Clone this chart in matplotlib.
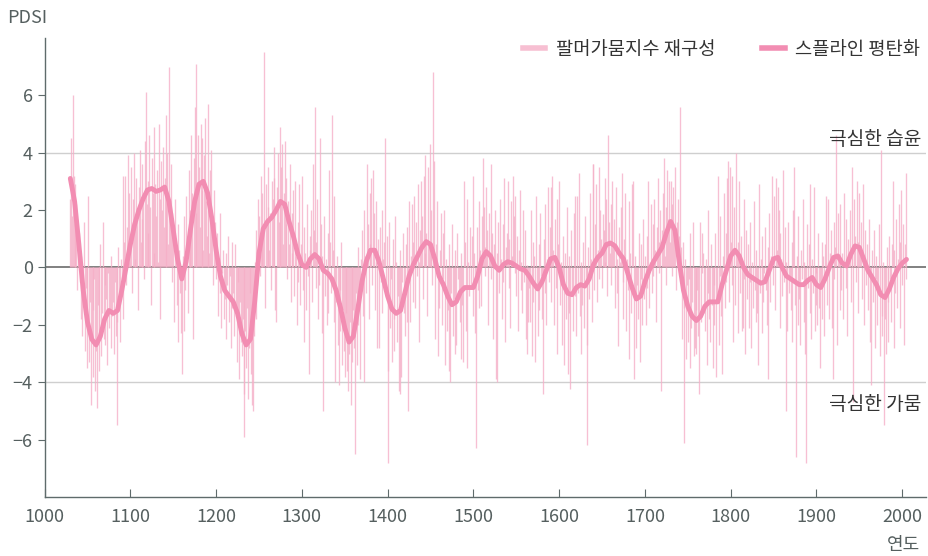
import matplotlib.pyplot as plt
import numpy as np
from matplotlib.lines import Line2D

plt.rcParams['font.family'] = ['Noto Sans CJK KR', 'DejaVu Sans']

# annual reconstructed PDSI, one row per decade, starting 1030
pdsi = [
    2.4, 4.5, 1.8, 6.0, 3.2, 2.9, 1.5, 2.2, -0.8, 0.6,
    1.2, -0.5, -1.8, 0.4, -2.4, -1.1, 1.6, -2.9, -0.7, -3.5,
    -2.0, 2.5, -3.3, -1.2, -4.8, -2.6, -1.5, -3.8, -0.4, -4.3,
    -2.9, -4.9, -1.3, -3.6, -2.2, 0.8, -3.1, -1.6, 1.6, -2.5,
    -0.6, -2.7, -1.1, -3.4, -0.2, -2.1, -1.5, 0.4, -2.8, -1.7,
    -1.2, -3.0, -0.5, -2.4, -1.9, -5.5, 0.7, -1.4, -2.6, 0.3,
    -0.4, 3.2, -1.8, 0.9, 3.2, -0.6, 1.4, 3.9, 0.2, 2.6,
    1.1, 3.5, -0.9, 2.4, 4.0, 1.6, 0.3, 3.1, 2.0, -1.5,
    2.8, 4.1, 0.9, 3.6, 1.7, 2.5, -0.4, 4.4, 6.1, 2.2,
    3.0, 1.2, 4.6, 2.1, -1.3, 3.8, 2.6, 0.5, 4.9, 2.9,
    1.8, 3.4, 0.2, 5.0, 2.4, -1.8, 3.7, 2.0, 4.2, 1.4,
    3.1, 5.3, 2.6, 4.0, 0.8, 7.0, 2.2, 3.6, -0.5, 1.9,
    1.0, -1.9, 2.4, 0.3, -1.3, 1.5, -2.6, 0.6, -0.9, -2.3,
    -3.7, 0.4, -2.2, 1.8, -0.8, 2.5, 0.9, -1.6, 3.4, 2.0,
    1.2, 4.6, 2.6, -2.5, 3.8, 5.6, 1.9, 7.1, 2.8, 4.6,
    3.5, 1.4, 5.0, 2.7, 4.5, 0.6, 3.9, 5.2, 2.3, 1.1,
    5.7, 2.0, 0.5, 3.4, 4.1, 1.3, -0.6, 2.7, 0.1, 1.6,
    -0.4, 1.2, -1.7, 0.3, -0.9, 1.9, -2.1, -0.2, 0.6, -1.8,
    -1.1, 0.5, -2.5, -0.6, 1.1, -1.9, -0.3, -2.8, 0.9, -1.4,
    -0.9, -2.4, 0.8, -1.7, -3.3, -0.5, -2.0, -3.9, -1.2, -2.6,
    -3.1, -1.8, -4.4, -5.9, -2.2, -3.5, -1.4, -4.6, -2.8, -0.9,
    -2.0, -3.7, -4.8, -5.0, -2.4, 0.2, -1.8, 1.3, -0.6, 2.4,
    1.8, -0.3, 3.2, 0.9, 2.6, 1.5, 7.5, -1.4, 2.9, 1.5,
    2.1, 3.5, 0.6, 1.9, -0.8, 3.0, 2.4, 4.2, 3.1, -1.5,
    -1.9, 2.8, 4.0, 1.6, 4.9, 2.2, 3.5, 4.3, 0.8, 2.6,
    4.4, 1.5, 3.1, -0.4, 2.3, 0.8, 3.6, -1.2, 1.9, 0.5,
    2.7, -1.0, 3.0, 0.4, -2.0, 1.6, -0.5, 2.9, -1.3, 0.8,
    3.2, -0.8, 1.4, -2.6, 0.5, -1.5, 2.2, -0.3, -3.7, 1.1,
    0.6, 2.0, -1.2, 3.6, 1.3, 5.6, -0.7, 0.9, 2.4, -1.8,
    -0.6, 4.5, 1.5, -2.3, 0.4, -5.0, 1.8, -1.0, 0.3, -2.0,
    1.2, -1.6, 3.4, 0.9, -0.9, 5.3, 0.6, -1.9, 2.5, -4.0,
    -1.2, 0.4, -2.7, -4.1, -0.8, -2.2, 0.9, -3.4, -1.5, -2.9,
    -3.8, -1.6, -2.5, -3.6, -4.3, -3.0, -1.9, -4.8, -2.1, -3.3,
    -1.5, -2.8, -6.5, -0.9, -3.4, 0.7, -2.0, -1.1, -3.9, 0.3,
    1.3, -1.7, -4.0, 2.0, 0.4, -0.9, 3.6, 1.5, -1.8, 2.6,
    0.8, 3.1, -0.6, 3.4, 1.9, -1.5, 0.2, 2.3, -2.8, 1.0,
    -2.8, 1.4, -0.5, 2.0, -1.6, 0.3, 0.9, 4.5, -0.9, 1.1,
    -3.6, -6.8, 1.6, -2.1, -0.4, -3.3, 1.0, -1.8, -2.9, 1.8,
    0.2, -2.6, -1.0, -4.3, 0.6, -4.4, -3.8, -0.5, 1.2, -1.6,
    -2.4, 0.8, -1.9, 1.4, -5.0, 2.3, -1.9, 0.4, 2.2, -1.2,
    0.9, 2.5, -1.4, 1.6, -0.3, 2.9, 0.2, -2.6, 1.3, 3.0,
    1.8, -1.1, 3.2, 0.5, 3.9, 1.2, -1.7, 3.5, 0.7, 4.3,
    2.0, 0.5, -0.6, 6.8, 3.7, -2.5, 0.8, -0.2, 2.3, -3.1,
    -1.4, 0.6, 1.9, -2.0, -0.4, 1.2, 2.0, -3.4, 0.3, -2.2,
    -1.5, 0.8, -3.6, -4.0, -0.9, 1.5, -2.4, -1.1, 0.6, -3.0,
    -2.7, 1.2, -0.4, -1.0, -1.9, -3.2, 0.5, -1.3, -3.3, 3.0,
    0.9, -2.2, 2.4, -3.5, 0.2, -1.0, 1.4, -0.6, 1.1, 3.2,
    -1.7, 0.5, -2.3, -6.3, 1.4, -0.8, 2.3, -1.4, 0.6, -1.35,
    1.8, 3.8, 2.1, 0.7, -0.3, 2.8, 1.3, -2.0, 1.9, 0.4,
    3.6, -0.4, 1.2, -2.5, 0.8, 2.0, -3.9, -4.0, 0.5, 1.6,
    -0.9, 2.4, 0.3, -1.8, 1.5, -0.5, 3.1, -2.6, 0.7, 1.2,
    3.0, -0.7, 1.0, -2.1, 2.3, 0.4, 3.2, 1.8, -0.2, 2.5,
    -1.0, 1.1, -2.2, 0.6, 2.7, -0.8, 0.2, -1.6, 2.0, -0.5,
    1.3, -2.5, 0.1, -3.0, -1.9, -0.7, -1.9, 2.0, -3.1, 0.9,
    -1.2, 0.4, -3.3, 2.5, -0.6, -2.4, 0.8, -1.5, 1.9, -0.3,
    -1.8, -4.4, 1.0, -0.9, 2.2, -2.0, 0.3, 2.8, -0.5, 1.4,
    2.8, -1.2, 3.2, 0.6, -2.0, 1.7, -0.7, 2.4, -3.0, 0.8,
    3.0, -1.3, 0.2, -2.7, 1.1, -0.6, -3.4, 0.5, -1.8, 2.1,
    -3.7, 0.4, -1.6, -4.25, 1.3, -0.8, -2.2, 1.9, -1.0, 2.5,
    -2.4, 2.5, -0.9, 3.3, -1.7, -3.0, 0.2, -1.3, 0.9, -2.1,
    1.8, -0.6, -2.7, -6.2, 0.7, -1.1, 2.6, 0.3, -1.9, 3.6,
    3.6, -0.8, 1.5, 2.9, -1.2, 0.6, 3.5, -0.4, 2.0, 1.0,
    -0.7, 1.85, 1.3, 3.1, 0.2, 2.4, -1.0, 4.6, 1.6, 0.5,
    2.2, -0.6, 3.0, 0.9, 1.7, -1.4, 2.8, 0.3, -0.9, -2.75,
    1.4, 0.2, 2.1, 3.3, -0.5, -1.8, 1.0, 2.6, -2.2, 0.3,
    -0.8, 2.3, -3.2, 0.5, -1.6, 2.9, 3.0, -3.9, 0.4, -1.1,
    -2.8, -0.6, -1.8, 1.2, -3.3, -0.4, 0.8, -2.0, 1.7, -1.1,
    0.4, -2.0, 1.1, -0.7, 3.0, -1.4, 0.2, 2.2, -0.9, 1.5,
    -0.3, 2.4, 0.6, -1.9, 1.4, 3.1, -0.2, 0.9, 2.0, -4.3,
    1.3, 2.6, 3.8, 0.4, 2.1, -0.6, 3.4, 1.7, 3.0, 0.9,
    3.0, 2.2, -0.3, 2.8, 1.0, 3.5, -0.8, 1.6, 0.2, 2.4,
    1.1, 5.6, 0.7, -2.5, 0.9, -1.4, -6.1, 0.3, -3.2, -0.6,
    -2.6, -0.4, -3.5, 1.2, -2.1, -1.2, 1.6, -3.1, -2.8, -1.5,
    -3.0, -0.8, -2.4, -4.4, 1.6, -1.9, -0.2, 1.2, 0.5, -1.6,
    -2.2, 0.3, -3.4, -0.9, 2.0, -1.8, -2.6, 0.8, -1.3, -3.5,
    -0.6, -2.0, 1.2, -3.8, -1.0, 3.2, -2.7, -0.3, 1.8, -1.7,
    -3.7, 0.4, 2.6, -1.4, 1.2, -0.5, 3.1, 3.7, -1.2, 3.5,
    0.9, 3.2, -0.6, -2.6, 2.1, -1.3, 4.0, 0.5, -2.3, 0.9,
    3.0, -0.9, 1.1, -2.2, -2.1, 2.4, -0.4, -3.0, 1.3, -1.1,
    0.8, -2.1, -0.5, 1.6, -2.8, 0.2, -1.4, 2.3, -0.8, -1.9,
    0.6, -1.6, -3.4, 2.9, -0.9, 0.3, -2.3, 1.1, -1.2, -0.2,
    1.4, -0.8, -2.0, -3.9, 0.7, 1.9, -1.2, 0.4, 3.2, -0.6,
    2.5, 0.1, -1.5, 3.1, 0.6, 2.8, 2.0, -2.1, 1.2, 0.3,
    -1.0, 3.4, -0.5, 1.4, -5.0, 0.2, -2.2, 1.6, -0.9, -0.3,
    -1.5, 0.9, -2.6, 2.0, 3.5, -1.3, -6.6, 0.4, -2.0, 1.8,
    -1.1, -2.7, 0.6, -0.4, 2.4, -1.9, 0.2, -3.0, -6.8, 1.5,
    -0.7, 0.8, 2.9, -1.6, -2.5, 0.3, -0.9, 2.8, -2.2, -1.3,
    -0.2, -2.0, 1.2, -1.4, -3.5, -0.6, 0.9, -1.8, 0.4, -2.4,
    0.8, 2.5, -1.3, 0.2, 2.4, -1.8, 0.5, 1.3, -2.1, -3.9,
    1.6, -0.4, 0.7, 4.6, -2.7, 1.9, 0.3, -1.5, 2.2, -0.8,
    0.5, -1.8, 2.6, 0.1, -0.7, 1.7, -2.4, 1.0, 0.3, 2.0,
    -1.2, 3.5, 0.6, -4.7, 2.4, 1.1, -0.5, 3.0, 0.9, -1.6,
    2.6, 0.4, 1.6, -1.1, 2.9, 0.2, -2.0, 1.3, -0.6, 0.8,
    -1.5, 1.7, -0.3, -2.6, -4.1, 0.6, -1.2, 1.3, -2.8, -0.4,
    0.4, -2.0, -0.9, 1.5, -3.1, 4.1, -1.7, -2.4, 0.2, -5.5,
    -1.8, -3.0, 0.7, -1.2, -2.6, 1.1, -0.4, -1.9, 0.8, 3.0,
    -2.8, 0.6, -0.9, 1.7, -1.4, 0.3, 2.2, -2.1, 0.9, 2.7,
    -0.6, 1.5, -2.7, 0.8, 3.3, -0.4,
]

# spline-smoothed curve, every 5 years from 1030
spline = [
    3.1, 2.3, 0.8, -0.8, -1.9, -2.5, -2.7, -2.4, -1.8, -1.5,
    -1.6, -1.5, -0.8, 0.0, 0.8, 1.5, 2.0, 2.4, 2.7, 2.75,
    2.65, 2.7, 2.8, 2.3, 1.3, 0.3, -0.4, 0.2, 1.3, 2.3,
    2.9, 3.0, 2.6, 1.7, 0.6, -0.3, -0.8, -1.0, -1.2, -1.6,
    -2.3, -2.7, -2.5, -1.2, 0.5, 1.35, 1.6, 1.75, 2.0, 2.3,
    2.2, 1.6, 1.1, 0.5, 0.1, 0.0, 0.3, 0.45, 0.3, -0.1,
    -0.2, -0.4, -0.8, -1.4, -2.1, -2.6, -2.4, -1.5, -0.5, 0.2,
    0.6, 0.6, 0.2, -0.4, -1.0, -1.45, -1.6, -1.5, -0.9, -0.3,
    0.1, 0.4, 0.7, 0.9, 0.8, 0.3, -0.3, -0.6, -1.0, -1.3,
    -1.2, -0.85, -0.7, -0.7, -0.7, -0.3, 0.3, 0.55, 0.4, 0.05,
    -0.1, 0.1, 0.2, 0.15, 0.05, -0.05, -0.1, -0.3, -0.55, -0.75,
    -0.5, -0.1, 0.3, 0.35, 0.0, -0.6, -0.9, -0.95, -0.7, -0.6,
    -0.65, -0.4, 0.1, 0.35, 0.5, 0.8, 0.85, 0.75, 0.5, 0.3,
    -0.2, -0.7, -1.1, -1.0, -0.5, -0.1, 0.2, 0.45, 0.7, 1.2,
    1.6, 1.3, 0.2, -0.8, -1.35, -1.7, -1.85, -1.7, -1.35, -1.2,
    -1.2, -1.2, -0.6, -0.1, 0.4, 0.6, 0.4, 0.0, -0.25, -0.35,
    -0.45, -0.55, -0.5, -0.1, 0.3, 0.35, 0.0, -0.3, -0.4, -0.5,
    -0.6, -0.6, -0.45, -0.35, -0.6, -0.7, -0.4, 0.0, 0.35, 0.4,
    0.15, 0.05, 0.45, 0.75, 0.7, 0.3, -0.1, -0.35, -0.6, -0.95,
    -1.05, -0.75, -0.35, -0.05, 0.15, 0.28,
]

years = np.arange(1030, 1030 + len(pdsi))
spline_years = np.arange(1030, 1030 + 5 * len(spline), 5)

bar_color = '#f5b0c8'
line_color = '#f28db2'
text_color = '#555f5f'
axis_color = '#5f6b6b'

fig = plt.figure(figsize=(9.29, 5.56), dpi=100)
ax = fig.add_axes([0.048, 0.106, 0.949, 0.826])

ax.vlines(years, 0, pdsi, color=bar_color, lw=0.95, alpha=0.8)
ax.axhline(4, color='#cfcfcf', lw=1, zorder=0)
ax.axhline(-4, color='#cfcfcf', lw=1, zorder=0)
ax.axhline(0, color='#6b6b6b', lw=1.2, zorder=1)
ax.plot(spline_years, spline, color=line_color, lw=3.5, solid_capstyle='round', zorder=3)

ax.set_xlim(1000, 2028)
ax.set_ylim(-8, 8)
ax.set_xticks(np.arange(1000, 2001, 100))
ax.set_yticks([-6, -4, -2, 0, 2, 4, 6])

for s in ['top', 'right']:
    ax.spines[s].set_visible(False)
for s in ['left', 'bottom']:
    ax.spines[s].set_color(axis_color)
    ax.spines[s].set_linewidth(1)
ax.tick_params(axis='x', direction='in', length=6, color=axis_color,
               labelsize=13, labelcolor=text_color, pad=8)
ax.tick_params(axis='y', direction='out', length=5, color=axis_color,
               labelsize=13, labelcolor=text_color)

ax.text(0.995, 4.1, '극심한 습윤', ha='right', va='bottom', fontsize=13.8,
        color='#333', transform=ax.get_yaxis_transform())
ax.text(0.995, -4.4, '극심한 가뭄', ha='right', va='top', fontsize=13.8,
        color='#333', transform=ax.get_yaxis_transform())

fig.text(0.008, 0.968, 'PDSI', ha='left', va='center', fontsize=13, color=text_color)
fig.text(0.99, 0.02, '연도', ha='right', va='center', fontsize=13, color=text_color)

handles = [Line2D([], [], color='#f7bfd2', lw=4),
           Line2D([], [], color=line_color, lw=4)]
ax.legend(handles, ['팔머가뭄지수 재구성', '스플라인 평탄화'], loc='upper right',
          bbox_to_anchor=(1.012, 1.035), ncol=2, frameon=False, fontsize=13.5,
          handlelength=1.2, handletextpad=0.55, columnspacing=2.5, labelcolor='#333')

plt.savefig('out.png', dpi=100)
